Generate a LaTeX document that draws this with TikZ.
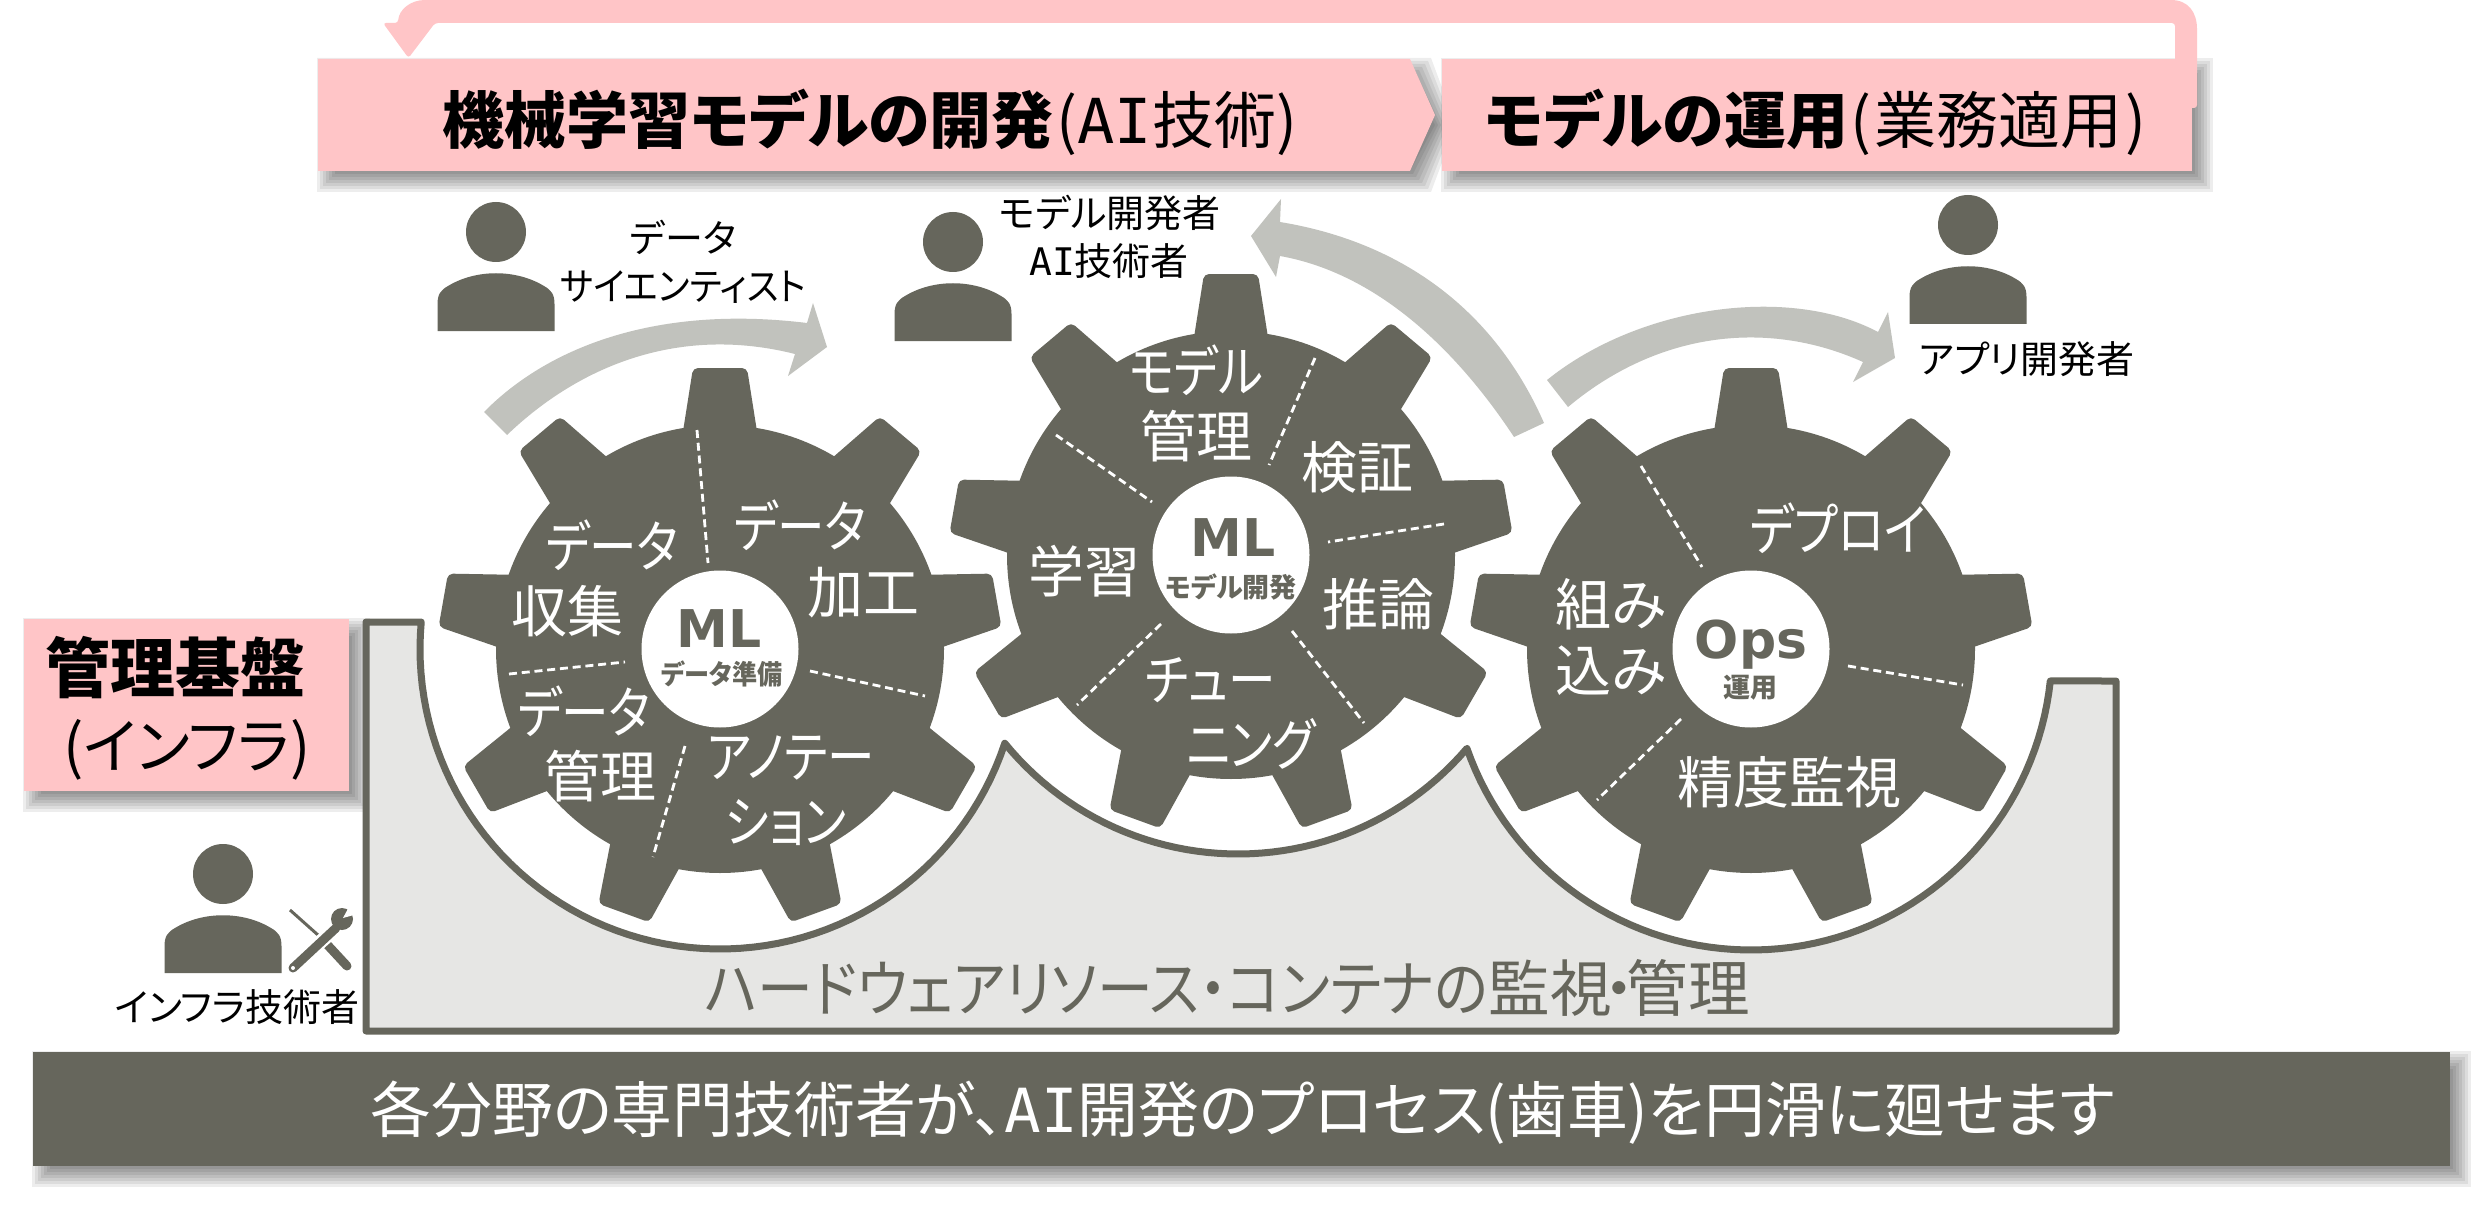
\documentclass[tikz,border=0pt]{standalone}
\usepackage{graphicx}
\usepackage{fontspec}
\setmainfont[RawFeature={+palt}]{Noto Sans CJK JP}
\newfontfamily\latinbold{DejaVu Sans Bold}
\newfontfamily\monolatin{DejaVu Sans Mono}
\newcommand\kn[1]{\scalebox{.85}[1]{#1}}
\newcommand\aiword{{\monolatin AI}}
\definecolor{gearc}{HTML}{66665C}
\definecolor{basec}{HTML}{E6E6E4}
\definecolor{arrowc}{HTML}{C1C2BD}
\definecolor{pinkc}{HTML}{FFC5C7}
\tikzset{
  geartext/.style={text=white,inner sep=0pt,font=\fontsize{28}{28}\selectfont},
  subtext/.style={text=gearc,inner sep=0pt,font=\fontsize{13.5}{14}\selectfont\bfseries},
  hubtext/.style={text=gearc,inner sep=0pt,font=\fontsize{26}{26}\selectfont\latinbold},
  hubdisc/.style={circle,fill=white,inner sep=0pt,minimum size=78.5pt},
  role/.style={text=black,inner sep=0pt,font=\fontsize{19}{19}\selectfont},
  titletext/.style={text=black,inner sep=0pt,font=\fontsize{31}{31}\selectfont},
  dashline/.style={white,line width=1.4pt,dash pattern=on 4pt off 2.4pt},
  curvearrow/.style={fill=arrowc},
}
\newcommand\softrect[4]{\foreach \d in {-10,-7,...,11}{\fill[black,opacity=.07] ({#1+10-\d},{#2+10-\d}) rectangle ({#3+10+\d},{#4+10+\d});}}
\newcommand\gearshape[2]{%
  \begin{scope}[shift={(#1,#2)}]
  \fill[gearc] (0,0) circle[radius=112pt];
  \foreach \k in {0,...,8}{
    \pgfmathsetmacro\a{-90+40*\k}
    \fill[gearc,rounded corners=2.5pt] (\a-11.25:203.9) -- (\a-5.49:282.3) -- (\a+5.49:282.3) -- (\a+11.25:203.9) -- cycle;
  }
  \end{scope}}
\newcommand\person[2]{%
  \begin{scope}[shift={(#1,#2)}]
  \fill[gearc] (0,0) circle[radius=15pt];
  \fill[gearc] (-58.5,99) -- (-58.5,72) .. controls (-58.5,62) and (-55,58) .. (-48,54) .. controls (-20,37) and (20,37) .. (48,54) .. controls (55,58) and (58.5,62) .. (58.5,72) -- (58.5,99) -- cycle;
  \end{scope}}
\begin{document}
\begin{tikzpicture}[x=.5pt,y=-.5pt]
\useasboundingbox (0,0) rectangle (2479,1214);
\fill[white] (0,0) rectangle (2479,1214);
% shadows
\foreach \d in {-10,-7,...,11}{\fill[black,opacity=.07] ({328-\d},{69-\d}) -- ({1420+\d},{69-\d}) -- ({1445+\d},125) -- ({1420+\d},{181+\d}) -- ({328-\d},{181+\d}) -- cycle;}
\softrect{1442}{59}{2192}{171}
\softrect{24}{619}{349}{791}
\softrect{33}{1052}{2450}{1166}
% return arrow
\fill[pinkc,rounded corners=1.5pt] (2197,108) -- (2197,32) .. controls (2197,12) and (2188,0) .. (2168,0) -- (428,0) .. controls (410,0) and (399,10) .. (398,23) -- (383,23) -- (408.5,58) -- (435,23) -- (2175,23) -- (2175,108) -- cycle;
% title boxes
\fill[pinkc] (318,59) -- (1410,59) -- (1435,115) -- (1410,171) -- (318,171) -- cycle;
\fill[pinkc] (1442,59) rectangle (2192,171);
\node[titletext] (title1) at (870,122) {\textbf{機械学習モデルの開発}\kern1.5pt(\aiword 技術)};
\node[titletext] (title2) at (1816,122) {\textbf{モデルの運用}\kern1.5pt(\kern1.5pt業務適用\kern1.5pt)};
% infra box
\fill[pinkc] (24,619) rectangle (349,791);
\node[inner sep=0pt,font=\fontsize{32.5}{33}\selectfont\bfseries] (infra1) at (176,668) {管理基盤};
\node[inner sep=0pt,font=\fontsize{30}{31}\selectfont] (infra2) at (187,750) {(インフラ)};
% base
\draw[gearc,fill=basec,line width=3.5pt,line join=round]
  (421,622) -- plot[domain=185.16:18.34,samples=70] ({720+300*cos(\x)},{649+300*sin(\x)})
  -- plot[domain=140.8:40.5,samples=50] ({1238+301*cos(\x)},{553+301*sin(\x)})
  -- plot[domain=160.7:6.1,samples=70] ({1751+301*cos(\x)},{649+301*sin(\x)})
  -- (2116,681) -- (2116,1031) -- (366,1031) -- (366,622) -- cycle;
\node[text=gearc,inner sep=0pt,font=\fontsize{30.8}{31}\selectfont] (baselabel) at (1227,988) {\scalebox{.907}[1]{ハードウェアリソース・コンテナの}監視\kern-4pt・\kern-4pt管理};
% bottom band
\fill[gearc] (33,1052) rectangle (2450,1166);
\node[text=white,inner sep=0pt,font=\fontsize{30.4}{31}\selectfont] (bandtext) at (1243,1113) {各分野の専門技術者が、\aiword 開発のプロセス(歯車)を円滑に廻せます};
% curved arrows
\fill[curvearrow] (484,412) .. controls (550,345) and (660,305) .. (807,323) -- (813,303) -- (827,347) -- (788,376) -- (795,354) .. controls (680,325) and (580,365) .. (507,435) -- cycle;
\fill[curvearrow] (1544,423) .. controls (1490,300) and (1390,240) .. (1280,222) -- (1281,199) -- (1251,236) -- (1276,277) -- (1280,256) .. controls (1370,272) and (1450,340) .. (1514,437) -- cycle;
\fill[curvearrow] (1547,380) .. controls (1640,305) and (1790,285) .. (1878,332) -- (1888,312) -- (1895,358) -- (1853,382) -- (1863,362) .. controls (1770,320) and (1660,330) .. (1568,407) -- cycle;
% gears
\gearshape{720}{649}
\gearshape{1231}{555}
\gearshape{1751}{649}
\node[hubdisc] (hub1) at (720,649) {};
\node[hubdisc] (hub2) at (1231,555) {};
\node[hubdisc] (hub3) at (1751,649) {};
% dashes gear 1
\draw[dashline] (697,430) -- (708,563);
\draw[dashline] (509,674) -- (625,662);
\draw[dashline] (810,671) -- (925,696);
\draw[dashline] (685,746) -- (653,857);
% dashes gear 2
\draw[dashline] (1315,358) -- (1269,465);
\draw[dashline] (1056,435) -- (1152,502);
\draw[dashline] (1444,524) -- (1328,542);
\draw[dashline] (1292,631) -- (1364,723);
\draw[dashline] (1161,624) -- (1077,705);
% dashes gear 3
\draw[dashline] (1641,466) -- (1702,567);
\draw[dashline] (1848,666) -- (1963,685);
\draw[dashline] (1681,719) -- (1597,800);
% gear 1 text
\node[hubtext] (ml1) at (719,629) {ML};
\node[subtext] (sub1) at (722,674) {\scalebox{.93}[1]{データ準備}};
\node[geartext] (g1a) at (612,545) {\kn{データ}};
\node[geartext] (g1b) at (567,611) {収集};
\node[geartext] (g1c) at (800,525) {\kn{データ}};
\node[geartext] (g1d) at (863,593) {加工};
\node[geartext] (g1e) at (584,711) {\kn{データ}};
\node[geartext] (g1f) at (600,776) {管理};
\node[geartext] (g1g) at (791,758) {\kn{アノテー}};
\node[geartext] (g1h) at (786,823) {\kn{ション}};
% gear 2 text
\node[hubtext] (ml2) at (1233,538) {ML};
\node[subtext] (sub2) at (1231,587) {モデル開発};
\node[geartext] (g2a) at (1196,370) {\kn{モデル}};
\node[geartext] (g2b) at (1196,436) {管理};
\node[geartext] (g2c) at (1357,467) {検証};
\node[geartext] (g2d) at (1378,604) {推論};
\node[geartext] (g2e) at (1084,571) {学習};
\node[geartext] (g2f) at (1210,680) {\kn{チュー}};
\node[geartext] (g2g) at (1251,744) {\kn{ニング}};
% gear 3 text
\node[hubtext] (ops) at (1751,645) {Ops};
\node[subtext] (sub3) at (1750,688) {運用};
\node[geartext] (g3a) at (1838,528) {\kn{デプロイ}};
\node[geartext] (g3b) at (1611,604) {組み};
\node[geartext] (g3c) at (1611,671) {込み};
\node[geartext] (g3d) at (1789,782) {精度監視};
% people
\person{496}{232}
\person{953}{242}
\person{1968}{225}
\person{223}{874}
% tools
\draw[gearc,line width=1.5pt] (290,910) -- (318,935);
\draw[gearc,line width=4.5pt,line cap=round] (322,939) -- (347,966);
\draw[white,line width=7pt] (298,962) -- (335,929);
\draw[gearc,line width=4.5pt,line cap=round] (293,968) -- (336,928);
\fill[gearc] (342,919) circle[radius=5.5pt];
\fill[white] (343,918) -- (350,905) -- (361,913) -- cycle;
\fill[white] (293,968) circle[radius=1pt];
% role labels
\node[role] (r1) at (683,237) {データ};
\node[role] (r2) at (683,287) {\scalebox{.93}[1]{サイエンティスト}};
\node[role] (r3) at (1110,213) {モデル開発者};
\node[role] (r4) at (1109,261) {\aiword 技術者};
\node[role] (r5) at (2027,359) {アプリ開発者};
\node[role] (r6) at (237,1007) {インフラ技術者};
\end{tikzpicture}
\end{document}
